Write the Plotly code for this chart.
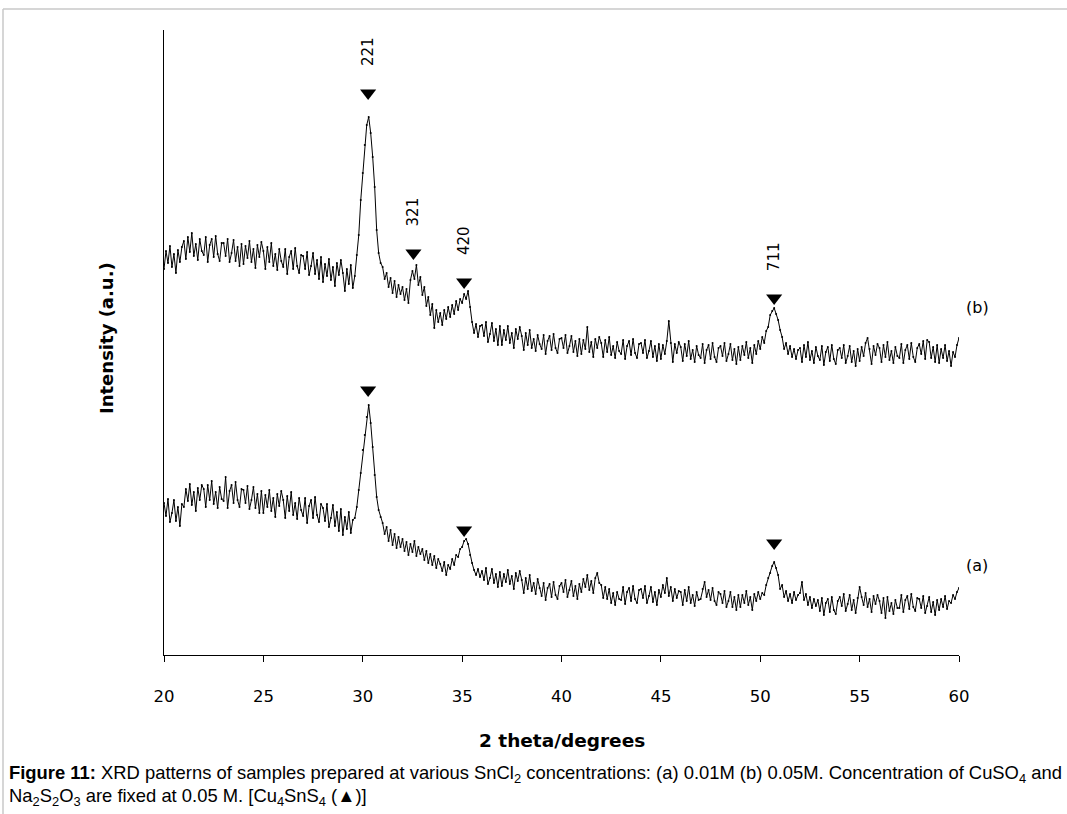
import numpy as np
import plotly.graph_objects as go

# ---------------- data ----------------
two_theta = np.round(np.arange(20.0, 60.0001, 0.1), 1)

# sample (b) 0.05M SnCl2 (arbitrary intensity units), one row per degree
intensity_b = [
    386, 404, 392, 409, 388, 401, 382, 405, 393, 408,
    414, 396, 418, 403, 422, 399, 411, 395, 416, 404,
    400, 418, 393, 410, 416, 398, 419, 401, 394, 412,
    412, 399, 416, 393, 402, 415, 394, 408, 389, 411,
    391, 409, 397, 414, 393, 406, 387, 410, 398, 413,
    404, 386, 408, 393, 412, 389, 401, 385, 406, 394,
    388, 406, 381, 398, 404, 386, 407, 389, 382, 400,
    399, 386, 403, 380, 389, 402, 381, 395, 376, 398,
    373, 391, 379, 396, 375, 388, 369, 392, 380, 395,
    382, 364, 386, 371, 390, 367, 379, 400, 420, 455,
    482, 510, 530, 538, 522, 498, 468, 425, 402, 392,
    388, 376, 382, 368, 377, 362, 374, 358, 370, 361,
    368, 355, 366, 352, 375, 384, 376, 390, 370, 378,
    360, 368, 349, 358, 340, 351, 327, 345, 333, 342,
    330, 345, 336, 348, 338, 350, 341, 354, 345, 356,
    352, 361, 356, 364, 348, 333, 322, 331, 318, 329,
    330, 319, 333, 313, 321, 332, 314, 326, 310, 329,
    310, 325, 315, 329, 312, 322, 307, 326, 316, 328,
    319, 305, 322, 310, 325, 307, 316, 304, 320, 311,
    306, 320, 301, 314, 319, 305, 321, 307, 302, 316,
    317, 307, 320, 302, 309, 319, 303, 314, 299, 316,
    301, 315, 306, 328, 303, 313, 298, 316, 307, 318,
    312, 298, 315, 303, 318, 300, 309, 297, 313, 304,
    301, 315, 296, 309, 314, 300, 316, 302, 297, 311,
    312, 302, 315, 297, 304, 314, 298, 309, 294, 311,
    296, 310, 301, 314, 334, 312, 293, 311, 302, 313,
    308, 294, 311, 299, 314, 296, 305, 293, 309, 300,
    297, 311, 292, 305, 310, 296, 312, 298, 293, 307,
    309, 299, 312, 294, 301, 311, 295, 306, 291, 308,
    295, 309, 300, 313, 297, 307, 292, 310, 301, 314,
    306, 318, 312, 324, 328, 340, 344, 347, 341, 335,
    325, 318, 306, 312, 301, 309, 298, 306, 296, 305,
    307, 293, 310, 298, 313, 295, 304, 292, 308, 299,
    295, 309, 290, 303, 308, 294, 310, 296, 291, 305,
    307, 297, 310, 292, 299, 309, 293, 304, 289, 306,
    294, 308, 299, 312, 317, 306, 291, 309, 300, 311,
    307, 293, 310, 298, 313, 295, 304, 292, 308, 299,
    297, 311, 292, 305, 310, 296, 312, 298, 293, 307,
    311, 301, 314, 296, 315, 313, 297, 308, 293, 310,
    292, 306, 297, 310, 294, 304, 289, 303, 298, 310,
    317,
]

# sample (a) 0.01M SnCl2
intensity_a = [
    152, 139, 156, 133, 142, 155, 134, 148, 129, 151,
    148, 166, 154, 171, 150, 163, 144, 167, 155, 170,
    166, 148, 170, 155, 174, 151, 163, 147, 168, 156,
    154, 178, 147, 164, 170, 152, 173, 155, 148, 166,
    165, 152, 169, 146, 155, 168, 147, 161, 142, 164,
    142, 160, 148, 165, 144, 157, 138, 161, 149, 164,
    155, 137, 159, 144, 163, 140, 152, 136, 157, 145,
    139, 157, 132, 149, 155, 137, 158, 140, 133, 151,
    147, 134, 151, 128, 137, 150, 129, 143, 124, 146,
    120, 138, 126, 143, 122, 135, 137, 148, 165, 182,
    205, 220, 238, 250, 232, 208, 180, 158, 145, 138,
    132, 121, 128, 114, 125, 110, 121, 107, 118, 108,
    116, 104, 113, 100, 111, 103, 114, 99, 108, 101,
    106, 95, 104, 92, 101, 90, 99, 87, 96, 91,
    84, 93, 80, 90, 86, 96, 90, 100, 98, 106,
    108, 114, 116, 111, 100, 92, 85, 80, 86, 78,
    84, 75, 87, 71, 77, 86, 72, 81, 68, 83,
    69, 81, 73, 85, 71, 79, 66, 82, 74, 84,
    75, 62, 77, 66, 80, 64, 72, 61, 76, 67,
    59, 72, 55, 67, 71, 58, 73, 60, 56, 69,
    72, 63, 75, 58, 65, 74, 59, 69, 56, 71,
    63, 76, 68, 80, 65, 74, 62, 77, 82, 72,
    70, 57, 68, 56, 66, 52, 62, 50, 63, 56,
    55, 68, 51, 63, 67, 54, 69, 56, 52, 65,
    66, 57, 69, 52, 59, 68, 53, 63, 50, 65,
    58, 70, 62, 77, 59, 68, 54, 66, 57, 64,
    63, 50, 65, 54, 68, 52, 60, 49, 63, 55,
    56, 66, 73, 58, 65, 55, 67, 54, 50, 63,
    61, 52, 64, 48, 54, 63, 48, 58, 45, 60,
    48, 60, 52, 64, 50, 58, 45, 61, 54, 63,
    56, 62, 60, 70, 77, 82, 89, 93, 87, 80,
    66, 70, 58, 64, 54, 61, 52, 63, 55, 60,
    62, 73, 55, 61, 50, 58, 47, 56, 49, 55,
    44, 57, 40, 52, 56, 43, 58, 45, 41, 54,
    58, 49, 61, 44, 51, 60, 45, 55, 42, 57,
    68, 58, 50, 62, 48, 56, 43, 59, 51, 60,
    54, 42, 57, 37, 58, 44, 52, 41, 55, 47,
    47, 60, 43, 55, 59, 46, 61, 48, 44, 57,
    56, 47, 59, 42, 49, 58, 43, 53, 40, 55,
    45, 56, 48, 59, 46, 54, 52, 60, 56, 63,
    67,
]
assert len(intensity_a) == len(two_theta) == len(intensity_b)

# Cu4SnS4 reflections (peak markers)
peaks_b_x = [30.27, 32.55, 35.1, 50.7]
peaks_b_y = [562, 402, 373, 357]
peaks_b_hkl = ["221", "321", "420", "711"]
peaks_b_label_y = [603, 443, 414, 398]

peaks_a_x = [30.27, 35.1, 50.7]
peaks_a_y = [265, 125, 112]

x_ticks = [20, 25, 30, 35, 40, 45, 50, 55, 60]

# ---------------- figure ----------------
W, H = 1067, 814
ML, MR, MT, MB = 164, 108, 30, 159
PW, PH = W - ML - MR, H - MT - MB

def px(xp):
    return (xp - ML) / PW

def py(yp):
    return (H - MB - yp) / PH

BLACK = "#000000"
arial = "Liberation Sans, Arial, sans-serif"
dejavu = "DejaVu Sans, Arial, sans-serif"

fig = go.Figure()
for yy in (intensity_b, intensity_a):
    fig.add_trace(go.Scatter(
        x=two_theta, y=yy, mode="lines+markers",
        line=dict(color=BLACK, width=1),
        marker=dict(color=BLACK, size=2),
        showlegend=False, hoverinfo="skip",
    ))

fig.add_trace(go.Scatter(
    x=peaks_b_x + peaks_a_x, y=peaks_b_y + peaks_a_y, mode="markers",
    marker=dict(symbol="triangle-down", size=14, color=BLACK, line=dict(width=0)),
    showlegend=False, cliponaxis=False, hoverinfo="skip",
))

annotations = []
for xv, yv, lab in zip(peaks_b_x, peaks_b_label_y, peaks_b_hkl):
    annotations.append(dict(x=xv, y=yv, xref="x", yref="y", text=lab,
                            textangle=-90, showarrow=False,
                            xanchor="center", yanchor="middle",
                            font=dict(family=dejavu, size=15, color=BLACK)))

annotations.append(dict(x=px(977), y=py(307), xref="paper", yref="paper", text="(b)",
                        showarrow=False, xanchor="center", yanchor="middle",
                        font=dict(family=dejavu, size=16, color=BLACK)))
annotations.append(dict(x=px(977), y=py(565), xref="paper", yref="paper", text="(a)",
                        showarrow=False, xanchor="center", yanchor="middle",
                        font=dict(family=dejavu, size=16, color=BLACK)))

annotations.append(dict(x=px(562), y=py(740), xref="paper", yref="paper",
                        text="<b>2 theta/degrees</b>", showarrow=False,
                        xanchor="center", yanchor="middle",
                        font=dict(family=dejavu, size=18.5, color=BLACK)))
annotations.append(dict(x=px(106), y=py(338), xref="paper", yref="paper",
                        text="<b>Intensity (a.u.)</b>", textangle=-90, showarrow=False,
                        xanchor="center", yanchor="middle",
                        font=dict(family=dejavu, size=18, color=BLACK)))

cap_font = dict(family=arial, size=18.4, color=BLACK)
annotations.append(dict(
    x=px(7), y=py(774), xref="paper", yref="paper", xanchor="left", yanchor="middle",
    text="<b>Figure 11:</b> XRD patterns of samples prepared at various SnCl<sub>2</sub> "
         "concentrations: (a) 0.01M (b) 0.05M. Concentration of CuSO<sub>4</sub> and",
    showarrow=False, font=cap_font, align="left"))
annotations.append(dict(
    x=px(7), y=py(797), xref="paper", yref="paper", xanchor="left", yanchor="middle",
    text="Na<sub>2</sub>S<sub>2</sub>O<sub>3</sub> are fixed at 0.05 M. "
         "[Cu<sub>4</sub>SnS<sub>4</sub> (\u25b2)]",
    showarrow=False, font=cap_font, align="left"))

shapes = [
    dict(type="line", xref="paper", yref="paper", x0=px(3), x1=px(W), y0=py(9), y1=py(9),
         line=dict(color="#c8c8c8", width=1.5)),
    dict(type="line", xref="paper", yref="paper", x0=px(3), x1=px(3), y0=py(9), y1=py(H),
         line=dict(color="#c8c8c8", width=1.5)),
]

fig.update_layout(
    width=W, height=H,
    margin=dict(l=ML, r=MR, t=MT, b=MB, pad=0),
    paper_bgcolor="white", plot_bgcolor="white",
    annotations=annotations, shapes=shapes,
    xaxis=dict(range=[20, 60], tickvals=x_ticks, ticktext=[str(t) for t in x_ticks],
               showline=True, linecolor=BLACK, linewidth=1.2, ticks="outside",
               ticklen=6, tickwidth=1, tickcolor=BLACK, showgrid=False, zeroline=False,
               tickfont=dict(family=dejavu, size=16.5, color=BLACK),
               ticklabelstandoff=20),
    yaxis=dict(range=[0, 625], showline=True, linecolor=BLACK, linewidth=1.2,
               showticklabels=False, ticks="", showgrid=False, zeroline=False),
)

fig.write_html("out.html")
